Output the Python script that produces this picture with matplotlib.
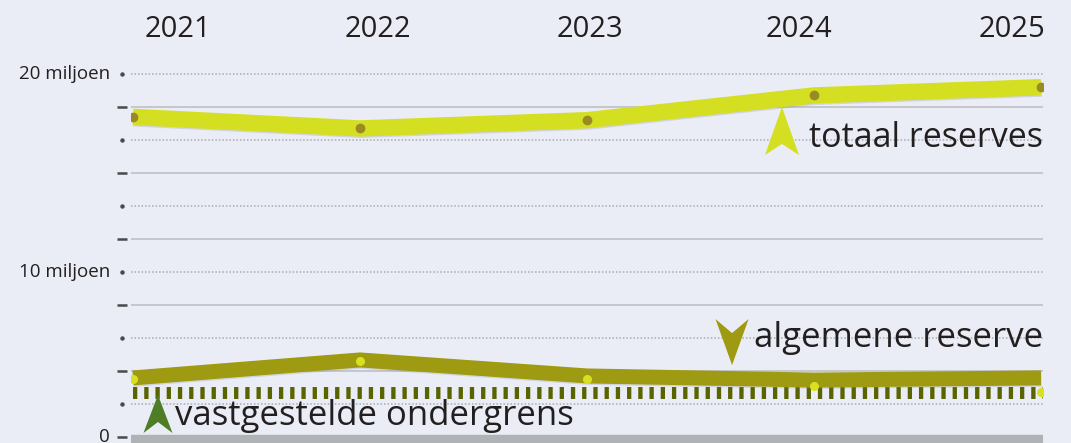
import numpy as np
import matplotlib
matplotlib.use('Agg')
import matplotlib.pyplot as plt
import matplotlib.patheffects as pe
from matplotlib.patches import Polygon

## Reserves chart: totaal reserves, algemene reserve and the fixed lower limit

# -- data (in grid units, 1 grid step = 2) --
years = ['2021', '2022', '2023', '2024', '2025']
totaal_reserves = [19.4, 18.7, 19.2, 20.7, 21.2]
algemene_lijn = [3.58, 4.67, 3.70, 3.45, 3.58]
algemene_punten = [3.52, 4.61, 3.52, 3.09, 2.73]
ondergrens = 2.67

solid_grid = [4, 8, 12, 16, 20]
dotted_grid = [2, 6, 10, 14, 18, 22]
y_labels = {0: '0', 10: '10 miljoen', 22: '20 miljoen'}

# year labels sit a bit off the data points in the original
year_label_x = [0.198, 1.079, 2.013, 2.934, 3.872]

bg = '#eaedf5'
lime = '#d4df22'
olive = '#9e9a12'
dark_olive = '#596300'
green = '#4e7d25'
txt = '#231f20'

plt.rcParams['font.family'] = ['Open Sans', 'DejaVu Sans']

fig = plt.figure(figsize=(10.71, 4.43), dpi=100)
fig.patch.set_facecolor(bg)
ax = fig.add_axes([131/1071, 0, 912/1071, 1])
ax.set_facecolor(bg)
ax.set_xlim(-2/227, 4 + 2/227)
ax.set_ylim(-6/16.5, 437/16.5)
for s in ax.spines.values():
  s.set_visible(False)
ax.set_xticks([])
ax.set_yticks([])

x = np.arange(len(years))

# grid lines
for g in solid_grid:
  ax.axhline(g, color='#c2c4c8', lw=1.3, zorder=1)
  ax.plot([-0.0154, -0.0044], [g, g], transform=ax.get_yaxis_transform(), color='#4a4a4a',
          lw=1.8, solid_capstyle='butt', clip_on=False)
for g in dotted_grid:
  ax.axhline(g, color='#a8abaf', lw=1.1, ls=(0, (1, 1.3)), zorder=1)
  ax.plot([-0.0099], [g], 'o', ms=2.2, color='#4a4a4a', transform=ax.get_yaxis_transform(), clip_on=False)
# zero bar
ax.axhspan(-1, 0.1, color='#b0b3b5', zorder=1)
ax.plot([-0.0154, -0.0044], [0, 0], transform=ax.get_yaxis_transform(), color='#4a4a4a',
        lw=1.8, solid_capstyle='butt', clip_on=False)

for v, lab in y_labels.items():
  ax.text(-0.023, v, lab, transform=ax.get_yaxis_transform(), ha='right', va='center',
          fontsize=13.5, color=txt)

for xp, yr in zip(year_label_x, years):
  ax.text(xp, 24.67, yr, ha='center', va='center', fontsize=21, color=txt)

shadow = [pe.SimpleLineShadow(offset=(0.4, -1.0), shadow_color='#7a7d85', alpha=0.22), pe.Normal()]

# ondergrens (dashed)
ax.plot([0, 4.008], [ondergrens, ondergrens], color=dark_olive, lw=8.6,
        dashes=(0.36, 0.58), solid_capstyle='butt', dash_capstyle='butt', zorder=3)

# algemene reserve
ax.plot(x, algemene_lijn, color=olive, lw=10.8, solid_joinstyle='miter', solid_capstyle='butt',
        path_effects=shadow, zorder=4)
ax.plot(x, algemene_punten, 'o', ms=5.5, color='#d8e021', zorder=5)

# totaal reserves
ax.plot(x, totaal_reserves, color=lime, lw=11.8, solid_joinstyle='round', solid_capstyle='butt',
        path_effects=shadow, zorder=4)
ax.plot(x, totaal_reserves, 'o', ms=6, color='#9a8a24', zorder=5)


def chevron(xc, y_tip, y_base, y_notch, half_w, color):
  pts = [(xc, y_tip), (xc + half_w, y_base), (xc, y_notch), (xc - half_w, y_base)]
  ax.add_patch(Polygon(pts, closed=True, color=color, lw=0, zorder=6))


chevron(2.859, 20.0, 17.09, 17.76, 0.075, lime)
chevron(2.639, 4.36, 7.15, 6.30, 0.073, olive)
chevron(0.110, 2.55, 0.24, 0.91, 0.064, green)

ax.text(4.009, 17.58, 'totaal reserves', ha='right', va='baseline', fontsize=24.5, color=txt, zorder=7)
ax.text(4.009, 5.45, 'algemene reserve', ha='right', va='baseline', fontsize=25, color=txt, zorder=7)
ax.text(0.185, 0.73, 'vastgestelde ondergrens', ha='left', va='baseline', fontsize=25, color=txt, zorder=7)

plt.savefig('out.png', dpi=100, facecolor=bg)
